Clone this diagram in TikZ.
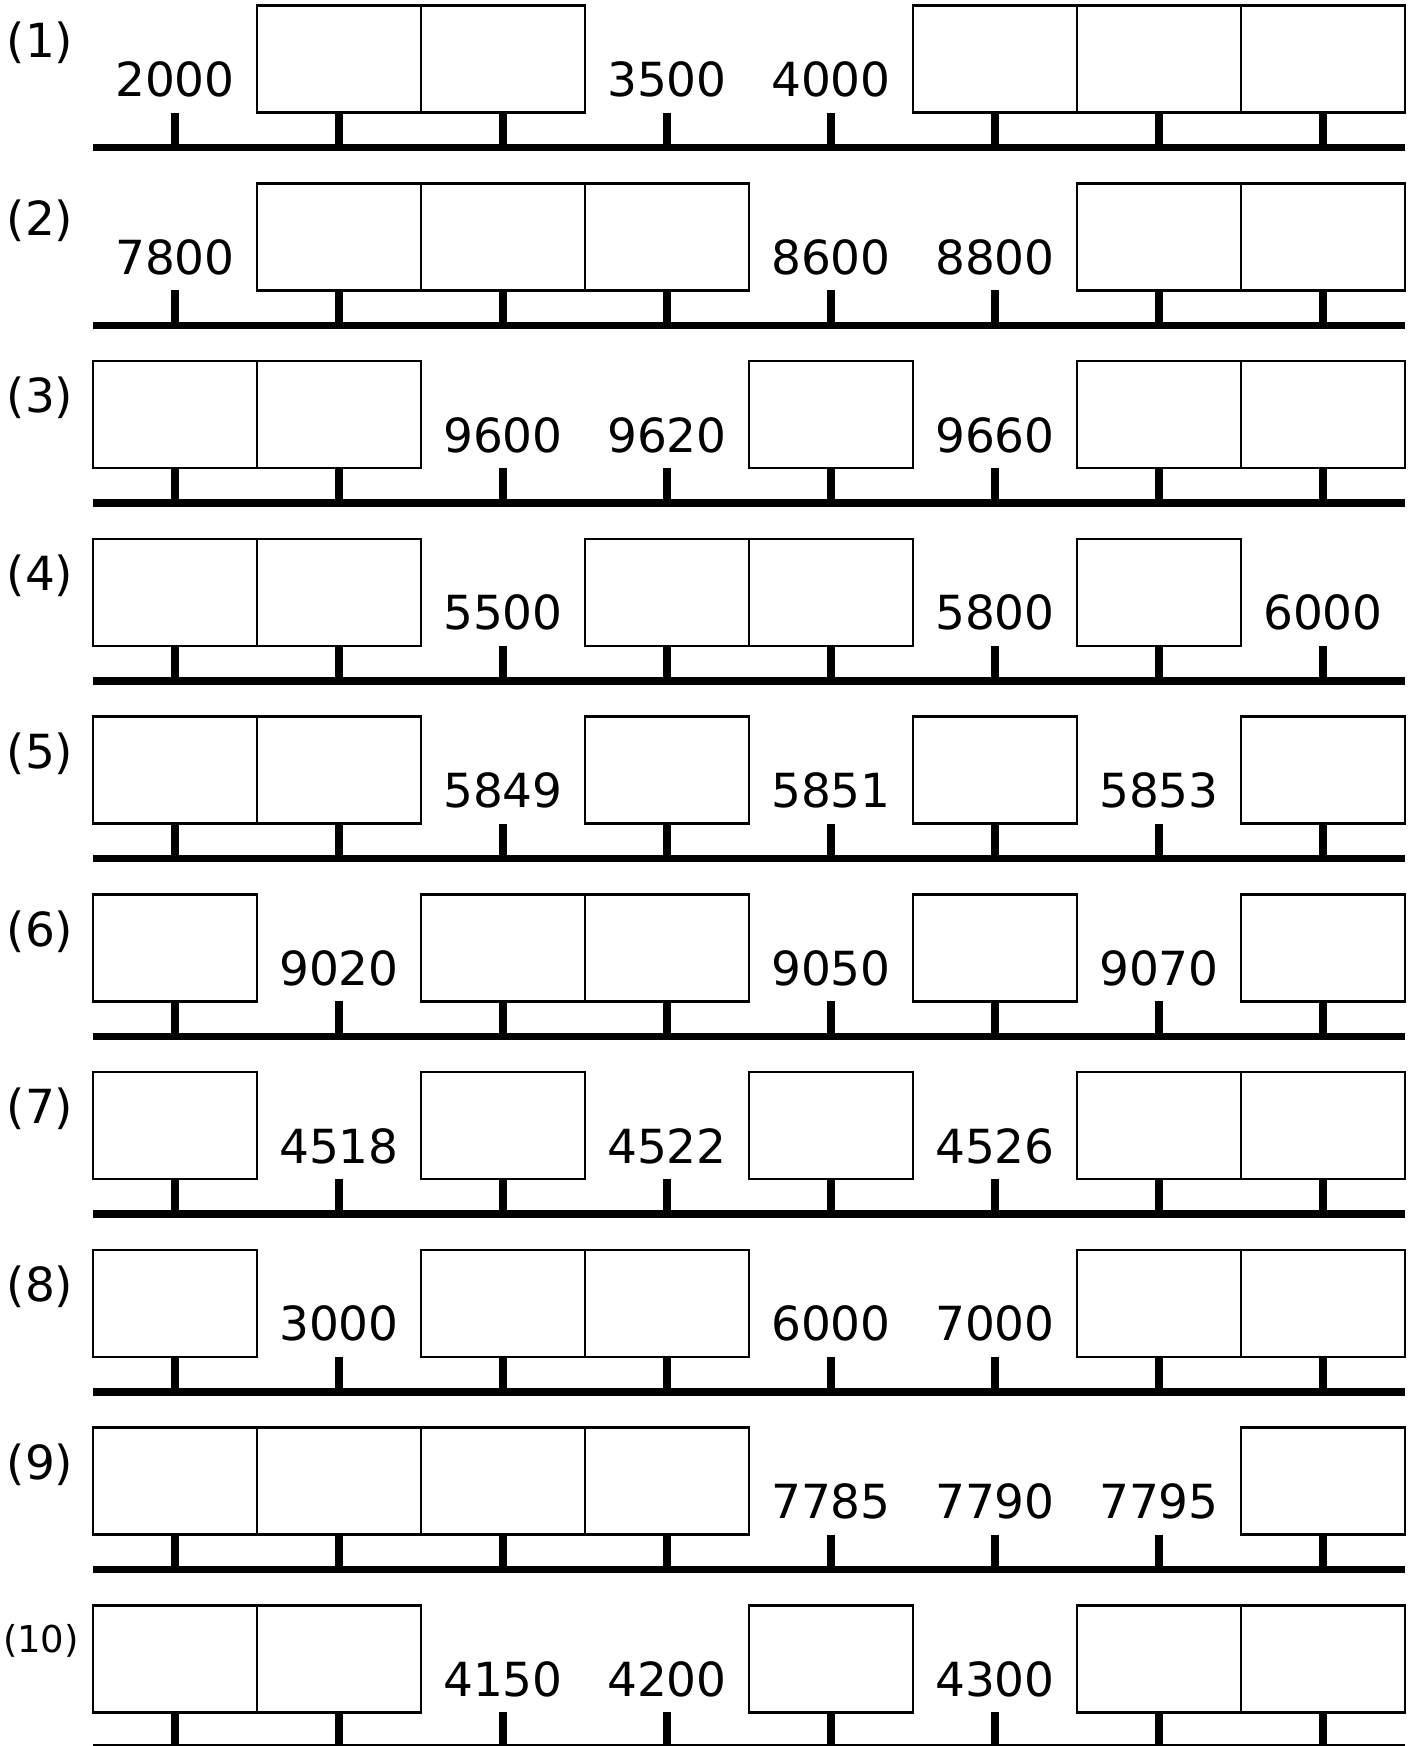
\documentclass[tikz,border=0pt]{standalone}
\usepackage{fontspec}
\setmainfont{DejaVu Sans}
\tikzset{
  answerbox/.style={draw, line width=2.5pt, minimum width=164pt,
    minimum height=107pt, inner sep=0pt},
  tickmark/.style={line width=7.5pt},
  numline/.style={line width=7.5pt},
  numlabel/.style={anchor=base, inner sep=0pt,
    font=\fontsize{47}{50}\selectfont},
  rowlabel/.style={inner sep=0pt, font=\fontsize{47}{50}\selectfont}
}
\begin{document}
\begin{tikzpicture}[x=1pt,y=1pt]
\useasboundingbox (0,0) rectangle (1414,-1746);

\foreach \row/\cells in {
  1/{2000,b,b,3500,4000,b,b,b},
  2/{7800,b,b,b,8600,8800,b,b},
  3/{b,b,9600,9620,b,9660,b,b},
  4/{b,b,5500,b,b,5800,b,6000},
  5/{b,b,5849,b,5851,b,5853,b},
  6/{b,9020,b,b,9050,b,9070,b},
  7/{b,4518,b,4522,b,4526,b,b},
  8/{b,3000,b,b,6000,7000,b,b},
  9/{b,b,b,b,7785,7790,7795,b},
  10/{b,b,4150,4200,b,4300,b,b}}{
  \pgfmathsetmacro\yl{-147.7-(\row-1)*177.75}
  %row number
  \ifnum\row=10
    \node[rowlabel, font=\fontsize{37}{40}\selectfont](lab\row)at(41,\yl+107){(\row)};
  \else
    \node[rowlabel](lab\row)at(40,\yl+105){(\row)};
  \fi
  \draw[numline](93,\yl)--(1405,\yl);
  \foreach \cell [count=\pos from 0] in \cells {
    \pgfmathsetmacro\xk{175+164*\pos}
    \draw[tickmark](\xk,\yl)--(\xk,\yl+35);
    \if b\cell
      \node[answerbox](box-\row-\pos)at(\xk,\yl+88.5){};
    \else
      \node[numlabel](num-\row-\pos)at(\xk,\yl+51){\cell};
    \fi
  }
}
\end{tikzpicture}
\end{document}
